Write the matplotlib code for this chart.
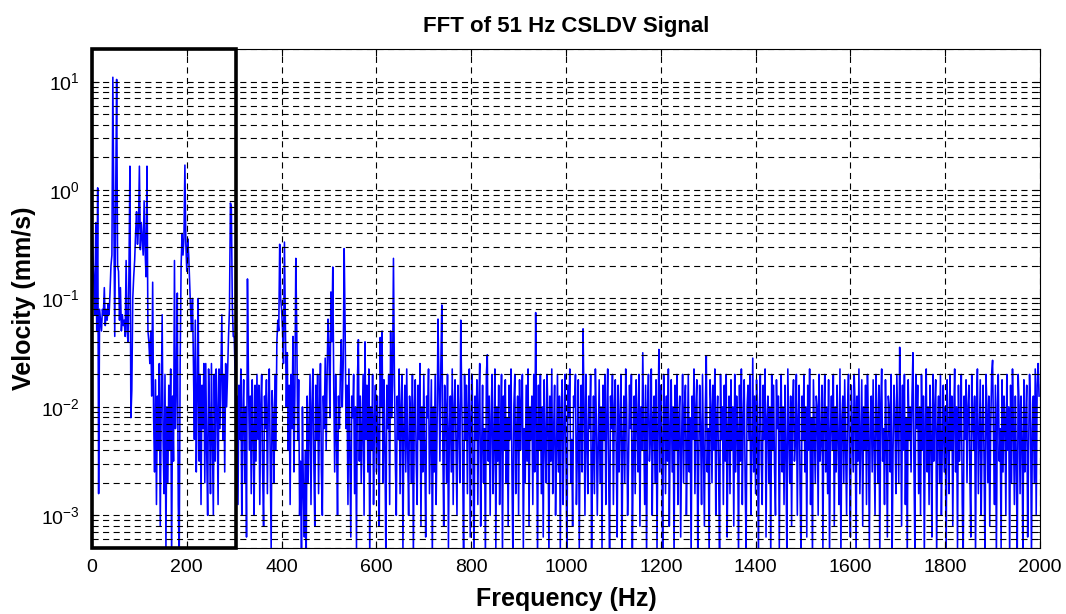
import numpy as np
import matplotlib
matplotlib.use('Agg')
import matplotlib.pyplot as plt
from matplotlib.patches import Rectangle
from matplotlib.ticker import LogLocator, NullFormatter

plt.rcParams['font.family'] = ['Liberation Sans', 'DejaVu Sans']
plt.rcParams['mathtext.default'] = 'regular'

# Полоса 0-298 Гц, шаг 2 Гц: показатель степени log10(скорость, мм/с)
low_step = 2.0
low_exp = [
    -0.28, -0.6, -0.85, -1.15, -0.3, -1.3, 0.02, -2.8, -1.1, -1.2,
    -1.3, -1.1, -1.15, -0.9, -1.25, -1.1, -1.2, -1.05, -1.15, -0.95,
    -0.7, -0.6, 1.04, -0.1, -1.35, -0.05, 1.02, -0.7, -0.75, -1.2,
    -0.9, -1.3, -1.15, -1.25, -1.2, -1.35, -0.65, -1.3, -1.4, -0.75,
    0.22, -2.1, -1.85, -1.0, -0.8, -0.65, -0.4, -0.2, -0.5, -0.35,
    0.22, -0.55, -0.3, -0.45, -0.6, -0.1, -0.55, -0.8, 0.22, -1.3,
    -1.4, -1.6, -1.3, -1.9, -0.85, -2.1, -2.6, -1.75, -2.9, -1.9,
    -2.4, -1.6, -3.1, -2.0, -1.15, -2.3, -2.8, -1.7, -3.3, -2.0,
    -2.7, -1.8, -2.4, -1.65, -3.4, -1.9, -2.5, -0.65, -2.2, -1.8,
    -0.95, -2.9, -3.4, -1.6, -0.7, -0.4, -0.6, -0.45, 0.23, -0.5,
    -0.75, -0.45, -0.6, -0.85, -1.1, -1.3, -1.0, -1.6, -2.3, -1.2,
    -2.6, -1.9, -1.0, -2.5, -1.7, -2.9, -1.8, -2.2, -1.6, -2.7,
    -1.6, -2.4, -3.0, -1.65, -2.1, -2.8, -1.6, -2.3, -3.0, -1.7,
    -2.5, -1.65, -2.0, -2.9, -1.65, -2.2, -1.7, -1.15, -2.3, -1.7,
    -2.6, -1.6, -2.0, -1.7, -1.35, -1.1, -0.12, -0.15, -1.05, -1.35,
]

# Полоса 300-1998 Гц, шаг 2 Гц
high_start = 300.0
high_step = 2.0
high_exp = [
    -1.35, -1.7, -2.6, -1.9, -2.9, -1.8, -2.3, -1.65, -3.0, -2.1, -1.75, -2.7, -2.0, -3.2, -0.82, -1.7, -2.4, -1.9, -2.8, -1.75, -2.2, -3.0, -1.8, -2.5, -1.7,
    -2.3, -1.8, -2.9, -2.0, -1.7, -2.6, -3.1, -1.9, -2.2, -1.75, -2.8, -2.0, -1.65, -2.5, -3.3, -1.85, -2.1, -2.7, -1.7, -2.4, -1.4, -1.2, -1.3, -0.5, -1.0,
    -1.1, -1.3, -1.6, -0.48, -1.25, -2.0, -1.5, -2.4, -1.8, -2.9, -1.7, -2.2, -1.35, -2.6, -1.9, -0.63, -1.3, -2.3, -1.75, -3.0, -2.5, -3.4, -2.0, -2.8, -3.2,
    -2.4, -3.3, -1.9, -2.7, -2.2, -1.7, -2.9, -2.0, -1.65, -2.5, -3.1, -1.8, -2.3, -1.7, -2.8, -2.0, -1.6, -2.6, -3.0, -1.9, -2.2, -1.55, -2.4, -1.7, -1.19,
    -1.5, -2.1, -0.94, -1.4, -0.71, -1.8, -2.6, -1.7, -2.3, -3.0, -1.9, -2.2, -1.7, -1.38, -2.0, -1.6, -0.54, -1.26, -2.2, -1.8, -2.9, -1.65, -2.4, -3.2, -1.9,
    -2.1, -1.7, -2.8, -2.0, -3.3, -1.75, -1.38, -2.5, -1.9, -2.7, -2.2, -1.7, -3.0, -1.4, -2.3, -1.8, -2.6, -1.65, -3.4, -2.0, -2.4, -1.7, -2.9, -2.1, -1.8,
    -2.6, -1.9, -2.3, -3.1, -1.36, -2.0, -1.3, -2.7, -1.75, -2.4, -3.4, -1.8, -2.2, -1.7, -2.9, -1.3, -2.1, -1.8, -0.63, -1.7, -2.5, -3.0, -1.9, -2.3, -1.65,
    -2.8, -2.0, -1.7, -3.3, -2.2, -1.8, -2.6, -1.65, -2.4, -3.0, -1.9, -2.1, -2.7, -1.7, -3.4, -2.0, -1.75, -2.5, -2.9, -1.8, -2.3, -1.6, -3.1, -2.0, -2.6,
    -1.7, -2.4, -3.2, -1.9, -2.1, -1.65, -2.8, -2.3, -1.75, -3.4, -2.0, -2.6, -1.7, -2.9, -2.2, -1.19, -1.8, -2.5, -1.6, -1.06, -2.3, -3.1, -1.8, -2.0, -2.7,
    -1.7, -3.3, -2.2, -1.9, -2.6, -1.65, -2.9, -2.0, -1.75, -2.4, -3.0, -1.8, -2.1, -2.7, -1.2, -1.9, -2.5, -3.4, -1.7, -2.3, -1.8, -2.8, -2.0, -1.65, -3.2,
    -2.1, -1.7, -2.6, -3.4, -1.9, -2.3, -1.75, -2.9, -2.0, -1.6, -3.1, -2.4, -1.8, -2.7, -2.2, -3.4, -1.7, -1.52, -2.5, -1.9, -3.0, -2.1, -1.7, -2.8, -2.3,
    -1.65, -3.3, -2.0, -2.5, -1.8, -2.9, -2.2, -1.7, -3.4, -1.9, -2.4, -1.75, -2.7, -2.1, -3.1, -1.8, -2.3, -1.65, -2.6, -3.4, -2.0, -1.7, -2.8, -2.2, -1.9,
    -3.0, -1.75, -2.4, -2.0, -1.7, -3.3, -2.2, -2.7, -1.8, -2.5, -1.65, -3.1, -2.0, -2.3, -1.9, -2.9, -1.7, -2.6, -1.13, -2.1, -3.4, -1.8, -2.4, -1.7, -2.8,
    -2.0, -3.2, -1.75, -2.3, -2.7, -1.7, -2.1, -3.4, -1.9, -2.5, -1.65, -2.8, -2.2, -1.8, -3.0, -2.4, -1.7, -2.6, -1.9, -3.3, -2.0, -1.75, -2.9, -2.2, -1.7,
    -2.5, -3.4, -1.8, -2.1, -1.65, -2.7, -2.3, -3.1, -1.9, -2.0, -1.7, -2.9, -2.4, -1.75, -3.3, -2.2, -1.8, -2.6, -1.28, -2.0, -3.0, -1.7, -2.3, -2.8, -1.9,
    -2.2, -1.7, -3.4, -2.5, -1.9, -2.8, -1.65, -2.1, -3.0, -2.4, -1.75, -2.7, -2.0, -3.3, -1.8, -2.3, -1.7, -2.9, -2.1, -1.65, -2.6, -3.4, -1.9, -2.2, -1.7,
    -2.9, -2.0, -1.75, -2.4, -3.2, -1.8, -2.6, -2.1, -1.7, -3.4, -2.3, -1.9, -2.7, -1.65, -2.0, -3.0, -2.5, -1.8, -2.2, -1.7, -3.3, -2.4, -1.9, -2.8, -1.75,
    -2.1, -2.6, -1.7, -3.1, -2.0, -2.4, -1.5, -2.2, -2.9, -1.8, -3.4, -2.0, -1.7, -2.5, -2.3, -1.65, -3.0, -2.1, -1.9, -2.7, -1.75, -3.3, -2.2, -1.47, -2.6,
    -1.8, -2.3, -3.4, -1.7, -2.0, -2.8, -1.9, -2.5, -1.65, -3.1, -2.2, -1.75, -2.6, -2.0, -3.4, -1.8, -2.4, -1.7, -2.9, -2.1, -1.9, -3.2, -2.3, -1.7, -2.7,
    -2.0, -1.8, -3.0, -2.4, -1.7, -2.6, -2.1, -3.4, -1.9, -2.3, -1.65, -2.8, -2.0, -1.75, -3.3, -2.5, -1.8, -2.2, -2.9, -1.7, -2.4, -3.1, -2.0, -1.53, -2.6,
    -2.2, -3.4, -1.75, -2.0, -2.7, -1.8, -2.4, -1.65, -3.0, -2.1, -1.9, -2.6, -3.4, -1.7, -2.3, -2.0, -2.9, -1.8, -2.5, -1.7, -3.2, -2.2, -1.9, -2.8, -1.75,
    -2.4, -2.0, -3.1, -1.7, -2.6, -1.9, -2.2, -3.4, -1.8, -2.5, -1.65, -2.9, -2.1, -1.75, -2.7, -3.3, -2.0, -1.8, -2.3, -1.7, -3.0, -2.4, -1.55, -2.6, -1.9,
    -2.8, -1.75, -2.2, -3.4, -2.0, -1.7, -2.5, -2.9, -1.8, -2.3, -1.65, -3.2, -2.1, -1.9, -2.7, -2.0, -3.4, -1.7, -2.4, -1.8, -2.6, -3.0, -1.75, -2.2, -1.9,
    -3.3, -2.1, -1.7, -2.6, -2.0, -2.9, -1.8, -2.4, -3.4, -1.65, -2.2, -2.7, -1.9, -3.1, -2.0, -1.75, -2.5, -2.3, -1.7, -3.0, -2.1, -1.8, -2.8, -3.4, -1.9,
    -2.3, -1.7, -2.6, -2.0, -3.2, -1.8, -2.4, -1.65, -2.9, -2.1, -3.4, -1.75, -2.2, -2.7, -1.9, -2.0, -3.0, -1.7, -2.5, -2.3, -1.8, -3.3, -2.1, -1.7, -2.6,
    -2.0, -2.8, -1.75, -3.4, -2.2, -1.9, -2.4, -1.7, -3.1, -2.0, -2.6, -1.8, -2.3, -2.9, -1.65, -3.4, -2.1, -1.9, -2.7, -1.75, -2.4, -3.0, -2.0, -1.7, -2.5,
    -3.2, -1.8, -2.2, -2.6, -1.7, -2.0, -3.4, -1.9, -2.5, -1.65, -2.8, -2.3, -1.75, -3.1, -2.0, -2.4, -1.8, -2.9, -1.7, -2.2, -3.3, -2.1, -1.9, -2.6, -1.75,
    -2.4, -3.0, -1.7, -2.1, -2.7, -1.8, -3.4, -2.0, -1.65, -2.5, -2.2, -2.9, -1.75, -2.3, -3.2, -1.9, -2.0, -2.6, -1.7, -3.4, -2.4, -1.8, -2.1, -2.8, -1.7,
    -2.2, -2.7, -1.45, -2.0, -3.1, -1.8, -2.4, -1.7, -2.9, -2.1, -3.4, -1.75, -2.3, -2.0, -2.6, -1.9, -1.5, -2.5, -3.3, -1.7, -2.2, -1.8, -2.8, -2.0, -3.0,
    -1.7, -2.4, -1.9, -3.4, -2.1, -1.65, -2.6, -2.0, -2.9, -1.8, -2.3, -3.2, -1.7, -2.5, -2.0, -1.75, -3.4, -2.2, -1.9, -2.7, -1.7, -3.0, -2.3, -1.8, -2.6,
    -2.0, -3.4, -1.75, -2.2, -2.8, -1.7, -2.4, -1.9, -3.1, -2.1, -1.65, -2.6, -2.0, -3.3, -1.8, -2.5, -2.2, -1.7, -2.9, -3.4, -1.9, -2.3, -1.75, -2.7, -2.0,
    -1.8, -2.6, -3.2, -1.7, -2.1, -2.4, -1.9, -3.4, -2.0, -1.65, -2.8, -2.3, -1.75, -3.0, -2.2, -1.8, -2.5, -3.4, -1.7, -2.0, -2.7, -1.9, -3.1, -2.2, -1.7,
    -1.57, -2.3, -2.9, -1.8, -3.4, -2.0, -1.7, -2.5, -2.2, -3.3, -1.75, -2.6, -1.9, -2.1, -3.0, -1.7, -2.4, -2.0, -3.4, -1.8, -2.7, -1.65, -2.2, -2.9, -1.9,
    -2.5, -3.4, -1.7, -2.0, -2.8, -1.9, -2.3, -3.4, -1.75, -2.6, -2.1, -1.8, -3.2, -2.4, -1.7, -2.0, -3.4, -2.2, -1.9, -2.7, -1.65, -3.0, -1.8, -1.6, -1.9,
]

x_ticks = [0, 200, 400, 600, 800, 1000, 1200, 1400, 1600, 1800, 2000]
box_end = 303  # Гц, рамка вокруг области низких частот

freq = np.concatenate([np.arange(len(low_exp)) * low_step,
                       high_start + np.arange(len(high_exp)) * high_step])
vel = 10.0 ** np.array(low_exp + high_exp)

fig = plt.figure(figsize=(10.66, 6.14), dpi=100)
ax = fig.add_axes([0.0863, 0.1075, 0.8893, 0.8128])

ax.semilogy(freq, vel, color='blue', lw=1.15)

ax.set_xlim(0, 2000)
ax.set_ylim(5e-4, 20)
ax.set_xticks(x_ticks)
ax.yaxis.set_major_locator(LogLocator(base=10, numticks=10))
ax.yaxis.set_minor_locator(LogLocator(base=10, subs=np.arange(2, 10), numticks=20))
ax.yaxis.set_minor_formatter(NullFormatter())

# Сетка в стиле MATLAB, поверх линии
ax.set_axisbelow(False)
ax.grid(True, which='major', axis='both', color='k', lw=0.8, linestyle=(0, (5.5, 4)))
ax.grid(True, which='minor', axis='y', color='k', lw=0.8, linestyle=(0, (5.5, 4)))

ax.tick_params(which='both', direction='in', top=True, right=True, labelsize=14)
ax.tick_params(axis='y', pad=9)
ax.tick_params(axis='x', pad=8)
ax.tick_params(which='major', length=5)
ax.tick_params(which='minor', length=3)
for s in ax.spines.values():
    s.set_linewidth(0.8)

# Рамка
ax.add_patch(Rectangle((0, 5e-4), box_end, 20 - 5e-4, fill=False,
                       edgecolor='k', lw=2.6, clip_on=False, zorder=5))

ax.set_title('FFT of 51 Hz CSLDV Signal', fontsize=16, fontweight='bold', pad=12)
ax.set_xlabel('Frequency (Hz)', fontsize=18, fontweight='bold', labelpad=8)
ax.set_ylabel('Velocity (mm/s)', fontsize=18, fontweight='bold', labelpad=3)

fig.savefig('out.png', dpi=100)
